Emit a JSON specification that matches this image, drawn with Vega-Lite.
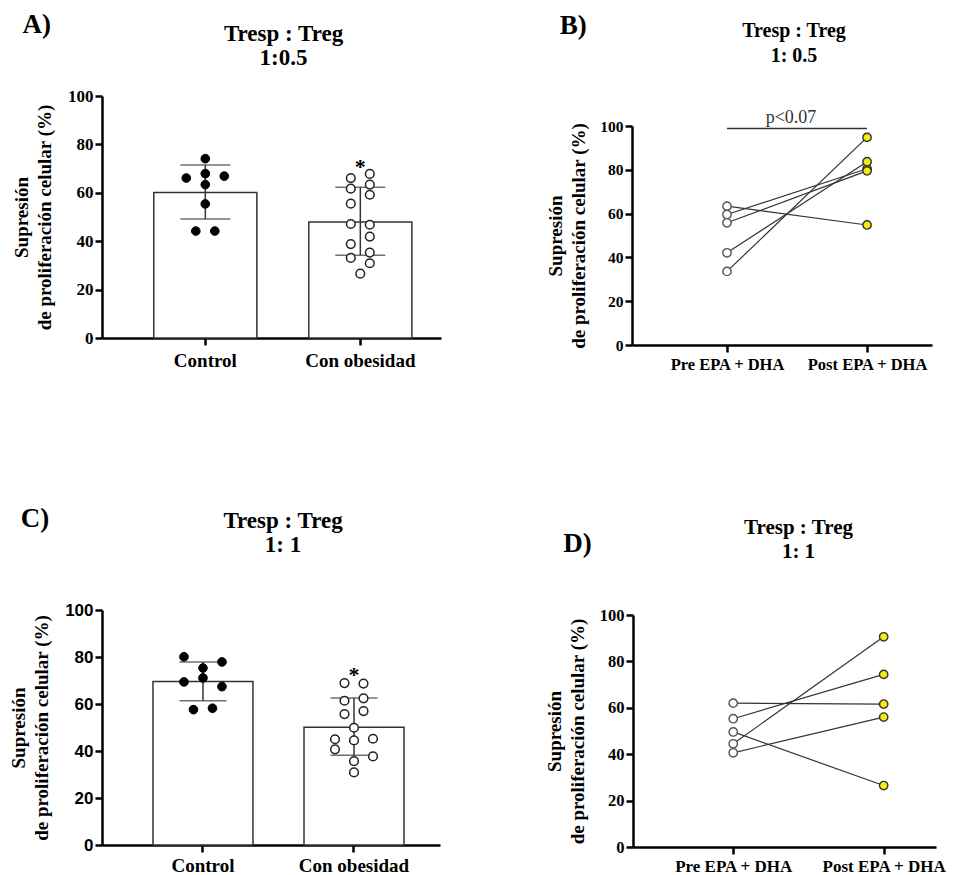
{
  "$schema": "https://vega.github.io/schema/vega-lite/v6.json",
  "background": "white",
  "padding": {"left": 9, "top": 11, "right": 5, "bottom": 5},
  "config": {
    "view": {"stroke": null},
    "font": "Liberation Serif",
    "axis": {"grid": false, "domainColor": "black", "domainWidth": 2.5, "tickColor": "black", "tickWidth": 2.5, "tickSize": 7, "labelColor": "black", "titleColor": "black", "labelFont": "Liberation Serif", "titleFont": "Liberation Serif", "labelFontWeight": "bold", "titleFontWeight": "bold", "titleFontSize": 19, "titleLineHeight": 23, "labelFontSize": 17, "labelOverlap": false},
    "axisX": {"labelAngle": 0, "labelFontSize": 19, "labelPadding": 6},
    "axisY": {"labelPadding": 2, "titlePadding": 13},
    "title": {"font": "Liberation Serif", "fontWeight": "bold", "color": "black", "frame": "group"},
    "text": {"font": "Liberation Serif"}
  },
  "datasets": {
    "a_sum": [
      {"group": "Control", "mean": 60.1, "lo": 49.2, "hi": 71.5},
      {"group": "Con obesidad", "mean": 47.9, "lo": 34.2, "hi": 62.3}
    ],
    "a_sig": [{"group": "Con obesidad", "label": "*", "y": 72.7}],
    "a_pts": [
      {"group": "Control", "slot": 0, "value": 74.1},
      {"group": "Control", "slot": -2, "value": 66.1},
      {"group": "Control", "slot": 0, "value": 67.9},
      {"group": "Control", "slot": 2, "value": 66.9},
      {"group": "Control", "slot": 0, "value": 63.4},
      {"group": "Control", "slot": 0, "value": 55.4},
      {"group": "Control", "slot": -1, "value": 44.2},
      {"group": "Control", "slot": 1, "value": 44.2},
      {"group": "Con obesidad", "slot": -1, "value": 66.1},
      {"group": "Con obesidad", "slot": 1, "value": 67.8},
      {"group": "Con obesidad", "slot": -1, "value": 61.7},
      {"group": "Con obesidad", "slot": 1, "value": 63.4},
      {"group": "Con obesidad", "slot": 1, "value": 59.2},
      {"group": "Con obesidad", "slot": -1, "value": 55.5},
      {"group": "Con obesidad", "slot": -1, "value": 47.1},
      {"group": "Con obesidad", "slot": 1, "value": 46.8},
      {"group": "Con obesidad", "slot": 1, "value": 41.9},
      {"group": "Con obesidad", "slot": -1, "value": 38.8},
      {"group": "Con obesidad", "slot": 1, "value": 35.3},
      {"group": "Con obesidad", "slot": -1, "value": 33.1},
      {"group": "Con obesidad", "slot": 1, "value": 30.9},
      {"group": "Con obesidad", "slot": 0, "value": 26.6}
    ],
    "c_sum": [
      {"group": "Control", "mean": 69.6, "lo": 61.4, "hi": 77.9},
      {"group": "Con obesidad", "mean": 50.1, "lo": 38.2, "hi": 62.6}
    ],
    "c_sig": [{"group": "Con obesidad", "label": "*", "y": 74.6}],
    "c_pts": [
      {"group": "Control", "slot": -2, "value": 80.1},
      {"group": "Control", "slot": 2, "value": 77.9},
      {"group": "Control", "slot": 0, "value": 75.3},
      {"group": "Control", "slot": -2, "value": 69.4},
      {"group": "Control", "slot": 0, "value": 71.1},
      {"group": "Control", "slot": 2, "value": 67.4},
      {"group": "Control", "slot": -1, "value": 57.6},
      {"group": "Control", "slot": 1, "value": 58.2},
      {"group": "Con obesidad", "slot": -1, "value": 68.9},
      {"group": "Con obesidad", "slot": 1, "value": 68.7},
      {"group": "Con obesidad", "slot": -1, "value": 61.4},
      {"group": "Con obesidad", "slot": 1, "value": 62.4},
      {"group": "Con obesidad", "slot": -1, "value": 55.7},
      {"group": "Con obesidad", "slot": 1, "value": 57.0},
      {"group": "Con obesidad", "slot": 0, "value": 49.9},
      {"group": "Con obesidad", "slot": -2, "value": 45.0},
      {"group": "Con obesidad", "slot": 0, "value": 44.5},
      {"group": "Con obesidad", "slot": 2, "value": 45.2},
      {"group": "Con obesidad", "slot": -2, "value": 40.7},
      {"group": "Con obesidad", "slot": 2, "value": 37.7},
      {"group": "Con obesidad", "slot": 0, "value": 35.7},
      {"group": "Con obesidad", "slot": 0, "value": 30.9}
    ],
    "b_pairs": [
      {"subject": "1", "time": "Pre  EPA + DHA", "value": 63.4},
      {"subject": "1", "time": "Post EPA + DHA", "value": 54.8},
      {"subject": "2", "time": "Pre  EPA + DHA", "value": 59.6},
      {"subject": "2", "time": "Post EPA + DHA", "value": 80.5},
      {"subject": "3", "time": "Pre  EPA + DHA", "value": 55.8},
      {"subject": "3", "time": "Post EPA + DHA", "value": 79.5},
      {"subject": "4", "time": "Pre  EPA + DHA", "value": 42.1},
      {"subject": "4", "time": "Post EPA + DHA", "value": 83.7},
      {"subject": "5", "time": "Pre  EPA + DHA", "value": 33.6},
      {"subject": "5", "time": "Post EPA + DHA", "value": 94.8}
    ],
    "b_annot": [{"from": "Pre  EPA + DHA", "to": "Post EPA + DHA", "y": 98.9, "label": "p<0.07"}],
    "d_pairs": [
      {"subject": "1", "time": "Pre EPA + DHA", "value": 62.0},
      {"subject": "1", "time": "Post EPA + DHA", "value": 61.6},
      {"subject": "2", "time": "Pre EPA + DHA", "value": 55.3},
      {"subject": "2", "time": "Post EPA + DHA", "value": 74.4},
      {"subject": "3", "time": "Pre EPA + DHA", "value": 44.5},
      {"subject": "3", "time": "Post EPA + DHA", "value": 90.6},
      {"subject": "4", "time": "Pre EPA + DHA", "value": 40.6},
      {"subject": "4", "time": "Post EPA + DHA", "value": 56.0},
      {"subject": "5", "time": "Pre EPA + DHA", "value": 49.6},
      {"subject": "5", "time": "Post EPA + DHA", "value": 26.5}
    ]
  },
  "spacing": 132,
  "vconcat": [
    {
      "spacing": 105,
      "hconcat": [
        {
          "title": {"text": "A)", "anchor": "start", "frame": "bounds", "fontSize": 27, "dx": 10, "offset": -16},
          "vconcat": [
            {
              "width": 339, "height": 242,
              "title": {"text": ["Tresp : Treg", "1:0.5"], "fontSize": 23, "lineHeight": 24, "offset": 17, "dx": 12, "anchor": "middle"},
              "resolve": {"scale": {"xOffset": "independent"}},
              "layer": [
                {"data": {"name": "a_sum"}, "mark": {"type": "bar", "fill": "white", "stroke": "#333", "strokeWidth": 1.5},
                 "encoding": {
                   "x": {"field": "group", "type": "nominal", "title": null, "scale": {"domain": ["Control", "Con obesidad"], "paddingInner": 0.335, "paddingOuter": 0.261, "align": 0.64}},
                   "y": {"field": "mean", "type": "quantitative", "title": ["Supresión", "de proliferación celular (%)"], "scale": {"domain": [0, 100]}, "axis": {"values": [0, 20, 40, 60, 80, 100]}}
                 }},
                {"data": {"name": "a_sum"}, "mark": {"type": "rule", "color": "#333", "strokeWidth": 1.5},
                 "encoding": {"x": {"field": "group", "type": "nominal"}, "y": {"field": "lo", "type": "quantitative"}, "y2": {"field": "hi"}}},
                {"data": {"name": "a_sum"}, "mark": {"type": "tick", "color": "#333", "thickness": 1.5, "size": 50},
                 "encoding": {"x": {"field": "group", "type": "nominal"}, "y": {"field": "hi", "type": "quantitative"}}},
                {"data": {"name": "a_sum"}, "mark": {"type": "tick", "color": "#333", "thickness": 1.5, "size": 50},
                 "encoding": {"x": {"field": "group", "type": "nominal"}, "y": {"field": "lo", "type": "quantitative"}}},
                {"data": {"name": "a_pts"}, "transform": [{"filter": "datum.group === 'Control'"}],
                 "mark": {"type": "circle", "fill": "black", "stroke": "black", "strokeWidth": 1, "size": 75, "opacity": 1},
                 "encoding": {"x": {"field": "group", "type": "nominal"}, "xOffset": {"field": "slot", "type": "quantitative", "scale": {"domain": [-2, 2], "range": [32.5, 70.5]}}, "y": {"field": "value", "type": "quantitative"}}},
                {"data": {"name": "a_pts"}, "transform": [{"filter": "datum.group === 'Con obesidad'"}],
                 "mark": {"type": "circle", "fill": "white", "stroke": "#222", "strokeWidth": 1.5, "size": 75, "opacity": 1},
                 "encoding": {"x": {"field": "group", "type": "nominal"}, "xOffset": {"field": "slot", "type": "quantitative", "scale": {"domain": [-2, 2], "range": [32.5, 70.5]}}, "y": {"field": "value", "type": "quantitative"}}},
                {"data": {"name": "a_sig"}, "mark": {"type": "text", "fontSize": 22, "fontWeight": "bold", "baseline": "middle", "dy": 5, "color": "black"},
                 "encoding": {"x": {"field": "group", "type": "nominal"}, "y": {"field": "y", "type": "quantitative"}, "text": {"field": "label"}}}
              ]
            }
          ]
        },
        {
          "title": {"text": "B)", "anchor": "start", "frame": "bounds", "fontSize": 27, "dx": 13, "offset": -19},
          "vconcat": [
            {
              "width": 300, "height": 249,
              "title": {"text": ["Tresp : Treg", "1: 0.5"], "fontSize": 20, "lineHeight": 25, "offset": 30, "dx": 12, "anchor": "middle"},
              "layer": [
                {"data": {"name": "b_pairs"}, "mark": {"type": "line", "color": "#333", "strokeWidth": 1.2},
                 "encoding": {
                   "x": {"field": "time", "type": "nominal", "title": null, "scale": {"type": "point", "domain": ["Pre  EPA + DHA", "Post EPA + DHA"], "padding": 0.571, "align": 0.594}, "axis": {"labelFontSize": 16.5, "labelPadding": 4}},
                   "y": {"field": "value", "type": "quantitative", "title": ["Supresión", "de proliferación celular (%)"], "scale": {"domain": [0, 100], "range": [249, 30]}, "axis": {"values": [0, 20, 40, 60, 80, 100], "labelFontSize": 15.5, "titlePadding": 11}},
                   "detail": {"field": "subject", "type": "nominal"}
                 }},
                {"data": {"name": "b_pairs"}, "transform": [{"filter": "datum.time === 'Pre  EPA + DHA'"}],
                 "mark": {"type": "circle", "fill": "white", "stroke": "#555", "strokeWidth": 1.4, "size": 70, "opacity": 1},
                 "encoding": {"x": {"field": "time", "type": "nominal"}, "y": {"field": "value", "type": "quantitative"}}},
                {"data": {"name": "b_pairs"}, "transform": [{"filter": "datum.time === 'Post EPA + DHA'"}],
                 "mark": {"type": "circle", "fill": "#f5ea14", "stroke": "#333", "strokeWidth": 1.4, "size": 70, "opacity": 1},
                 "encoding": {"x": {"field": "time", "type": "nominal"}, "y": {"field": "value", "type": "quantitative"}}},
                {"data": {"name": "b_annot"}, "mark": {"type": "rule", "color": "#333", "strokeWidth": 1.5},
                 "encoding": {"x": {"field": "from", "type": "nominal"}, "x2": {"field": "to"}, "y": {"field": "y", "type": "quantitative"}}},
                {"data": {"name": "b_annot"}, "mark": {"type": "text", "fontSize": 18, "fontWeight": "normal", "color": "#333", "baseline": "alphabetic", "dx": 64, "dy": -5},
                 "encoding": {"x": {"field": "from", "type": "nominal"}, "y": {"field": "y", "type": "quantitative"}, "text": {"field": "label"}}}
              ]
            }
          ]
        }
      ]
    },
    {
      "spacing": 105,
      "hconcat": [
        {
          "title": {"text": "C)", "anchor": "start", "frame": "bounds", "fontSize": 27, "dx": 11, "offset": -23},
          "vconcat": [
            {
              "width": 338, "height": 235,
              "title": {"text": ["Tresp : Treg", "1: 1"], "fontSize": 23, "lineHeight": 24, "offset": 44, "dx": 12, "anchor": "middle"},
              "resolve": {"scale": {"xOffset": "independent"}},
              "layer": [
                {"data": {"name": "c_sum"}, "mark": {"type": "bar", "fill": "white", "stroke": "#333", "strokeWidth": 1.5},
                 "encoding": {
                   "x": {"field": "group", "type": "nominal", "title": null, "scale": {"domain": ["Control", "Con obesidad"], "paddingInner": 0.338, "paddingOuter": 0.288, "align": 0.586}, "axis": {"labelPadding": 4}},
                   "y": {"field": "mean", "type": "quantitative", "title": ["Supresión", "de proliferación celular (%)"], "scale": {"domain": [0, 100]}, "axis": {"values": [0, 20, 40, 60, 80, 100], "labelFont": "Liberation Sans", "labelFontSize": 17}}
                 }},
                {"data": {"name": "c_sum"}, "mark": {"type": "rule", "color": "#333", "strokeWidth": 1.5},
                 "encoding": {"x": {"field": "group", "type": "nominal"}, "y": {"field": "lo", "type": "quantitative"}, "y2": {"field": "hi"}}},
                {"data": {"name": "c_sum"}, "mark": {"type": "tick", "color": "#333", "thickness": 1.5, "size": 47},
                 "encoding": {"x": {"field": "group", "type": "nominal"}, "y": {"field": "hi", "type": "quantitative"}}},
                {"data": {"name": "c_sum"}, "mark": {"type": "tick", "color": "#333", "thickness": 1.5, "size": 47},
                 "encoding": {"x": {"field": "group", "type": "nominal"}, "y": {"field": "lo", "type": "quantitative"}}},
                {"data": {"name": "c_pts"}, "transform": [{"filter": "datum.group === 'Control'"}],
                 "mark": {"type": "circle", "fill": "black", "stroke": "black", "strokeWidth": 1, "size": 75, "opacity": 1},
                 "encoding": {"x": {"field": "group", "type": "nominal"}, "xOffset": {"field": "slot", "type": "quantitative", "scale": {"domain": [-2, 2], "range": [31, 69]}}, "y": {"field": "value", "type": "quantitative"}}},
                {"data": {"name": "c_pts"}, "transform": [{"filter": "datum.group === 'Con obesidad'"}],
                 "mark": {"type": "circle", "fill": "white", "stroke": "#222", "strokeWidth": 1.5, "size": 75, "opacity": 1},
                 "encoding": {"x": {"field": "group", "type": "nominal"}, "xOffset": {"field": "slot", "type": "quantitative", "scale": {"domain": [-2, 2], "range": [31, 69]}}, "y": {"field": "value", "type": "quantitative"}}},
                {"data": {"name": "c_sig"}, "mark": {"type": "text", "fontSize": 22, "fontWeight": "bold", "baseline": "middle", "dy": 5, "color": "black"},
                 "encoding": {"x": {"field": "group", "type": "nominal"}, "y": {"field": "y", "type": "quantitative"}, "text": {"field": "label"}}}
              ]
            }
          ]
        },
        {
          "title": {"text": "D)", "anchor": "start", "frame": "bounds", "fontSize": 27, "dx": 18, "offset": -41},
          "vconcat": [
            {
              "width": 303, "height": 237,
              "title": {"text": ["Tresp : Treg", "1: 1"], "fontSize": 21, "lineHeight": 24, "offset": 45, "dx": 14, "anchor": "middle"},
              "layer": [
                {"data": {"name": "d_pairs"}, "mark": {"type": "line", "color": "#333", "strokeWidth": 1.2},
                 "encoding": {
                   "x": {"field": "time", "type": "nominal", "title": null, "scale": {"type": "point", "domain": ["Pre EPA + DHA", "Post EPA + DHA"], "padding": 0.507, "align": 0.657}, "axis": {"labelFontSize": 17, "labelPadding": 4}},
                   "y": {"field": "value", "type": "quantitative", "title": ["Supresión", "de proliferación celular (%)"], "scale": {"domain": [0, 100], "range": [237, 5]}, "axis": {"values": [0, 20, 40, 60, 80, 100], "labelFontSize": 16.5, "titlePadding": 12}},
                   "detail": {"field": "subject", "type": "nominal"}
                 }},
                {"data": {"name": "d_pairs"}, "transform": [{"filter": "datum.time === 'Pre EPA + DHA'"}],
                 "mark": {"type": "circle", "fill": "white", "stroke": "#555", "strokeWidth": 1.4, "size": 70, "opacity": 1},
                 "encoding": {"x": {"field": "time", "type": "nominal"}, "y": {"field": "value", "type": "quantitative"}}},
                {"data": {"name": "d_pairs"}, "transform": [{"filter": "datum.time === 'Post EPA + DHA'"}],
                 "mark": {"type": "circle", "fill": "#f5ea14", "stroke": "#333", "strokeWidth": 1.4, "size": 70, "opacity": 1},
                 "encoding": {"x": {"field": "time", "type": "nominal"}, "y": {"field": "value", "type": "quantitative"}}}
              ]
            }
          ]
        }
      ]
    }
  ]
}
